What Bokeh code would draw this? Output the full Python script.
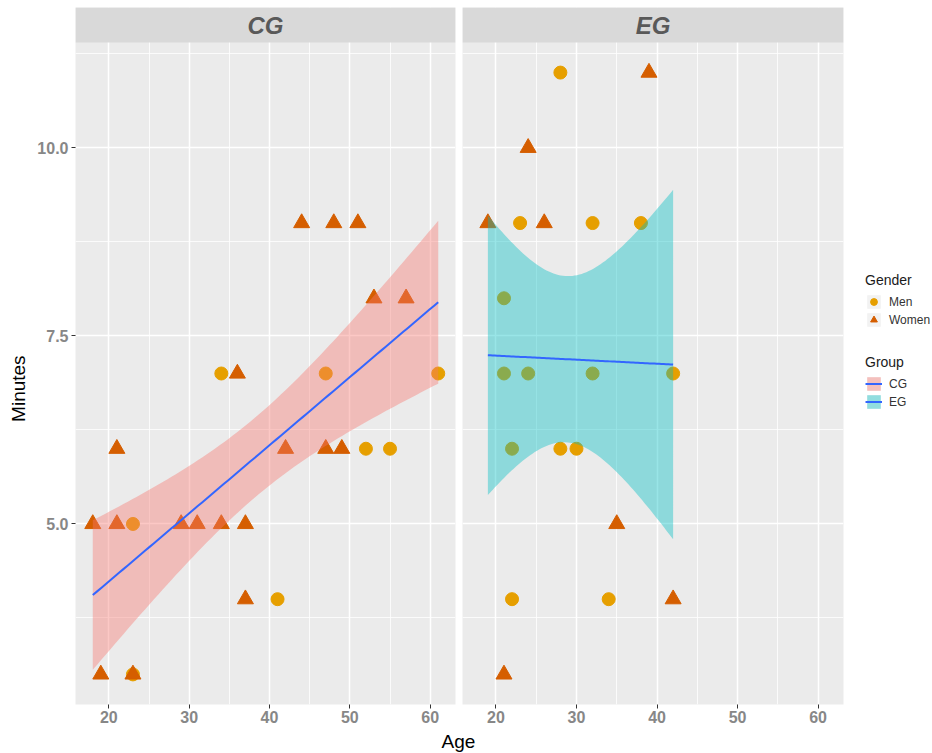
import numpy as np
from bokeh.plotting import figure
from bokeh.layouts import row, column
from bokeh.models import (Range1d, FixedTicker, BoxAnnotation, Label, Legend, LegendItem)
from bokeh.embed import file_html
from bokeh.resources import INLINE

# ---------------- data ----------------
cg_men_age = [34, 47, 61, 52, 55, 23, 41, 23]
cg_men_min = [7, 7, 7, 6, 6, 5, 4, 3]
cg_women_age = [44, 48, 51, 53, 57, 36, 21, 42, 47, 49, 18, 21, 29, 31, 34, 37, 37, 19, 23]
cg_women_min = [9, 9, 9, 8, 8, 7, 6, 6, 6, 6, 5, 5, 5, 5, 5, 5, 4, 3, 3]
eg_men_age = [28, 23, 32, 38, 21, 21, 24, 32, 42, 22, 28, 30, 22, 34]
eg_men_min = [11, 9, 9, 9, 8, 7, 7, 7, 7, 6, 6, 6, 4, 4]
eg_women_age = [39, 24, 19, 26, 35, 42, 21]
eg_women_min = [11, 10, 9, 9, 5, 4, 3]

groups = ["CG", "EG"]
genders = ["Men", "Women"]
x_ticks = [20, 30, 40, 50, 60]
x_minor = [25, 35, 45, 55]
y_ticks = [5.0, 7.5, 10.0]
y_minor = [3.75, 6.25, 8.75, 11.25]
t_975 = {"CG": 2.0595, "EG": 2.0930}   # Student t quantiles, df = n - 2

# ---------------- styles ----------------
MEN_COL = "#E69F00"
WOMEN_COL = "#D55E00"
FILL = {"CG": "#F8766D", "EG": "#00BFC4"}
LINE_COL = "#3366FF"
PANEL_BG = "#EBEBEB"
STRIP_BG = "#D9D9D9"
TICK_COL = "#878787"
FONT = "Liberation Sans"

ROW_H = 726
TOP = 7
BORDER_BOTTOM = 22
FRAME_H = ROW_H - BORDER_BOTTOM - TOP
STRIP_H = 35


def smooth(xs, ys, t):
    x = np.asarray(xs, float)
    y = np.asarray(ys, float)
    n = len(x)
    b, a = np.polyfit(x, y, 1)
    grid = np.linspace(x.min(), x.max(), 80)
    fit = a + b * grid
    resid = y - (a + b * x)
    s = np.sqrt((resid ** 2).sum() / (n - 2))
    se = s * np.sqrt(1.0 / n + (grid - x.mean()) ** 2 / ((x - x.mean()) ** 2).sum())
    return grid, fit, fit - t * se, fit + t * se


data = {
    "CG": (cg_men_age, cg_men_min, cg_women_age, cg_women_min),
    "EG": (eg_men_age, eg_men_min, eg_women_age, eg_women_min),
}
fits = {g: smooth(d[0] + d[2], d[1] + d[3], t_975[g]) for g, d in data.items()}

all_x = cg_men_age + cg_women_age + eg_men_age + eg_women_age
all_y = cg_men_min + cg_women_min + eg_men_min + eg_women_min
ymin = min(min(all_y), min(min(f[2]) for f in fits.values()))
ymax = max(max(all_y), max(max(f[3]) for f in fits.values()))
xr = max(all_x) - min(all_x)
x0, x1 = min(all_x) - 0.05 * xr, max(all_x) + 0.05 * xr
yr = ymax - ymin
y0, y1 = ymin - 0.05 * yr, ymax + 0.05 * yr
panel_px = FRAME_H - STRIP_H
y_top = y1 + STRIP_H * (y1 - y0) / panel_px


def make_panel(g, width, bl, br, show_y):
    ma, mm, wa, wm = data[g]
    p = figure(width=width, height=ROW_H, x_range=Range1d(x0, x1), y_range=Range1d(y0, y_top),
               output_backend="svg", toolbar_location=None,
               min_border_left=bl, min_border_right=br, min_border_top=TOP,
               min_border_bottom=BORDER_BOTTOM)
    p.background_fill_color = PANEL_BG
    p.border_fill_color = "white"
    p.outline_line_color = None

    xt = FixedTicker(ticks=x_ticks, minor_ticks=x_minor)
    yt = FixedTicker(ticks=y_ticks, minor_ticks=y_minor)
    p.xaxis.ticker = xt
    p.yaxis.ticker = yt
    p.xgrid.ticker = xt
    p.ygrid.ticker = yt
    for gr in (p.xgrid, p.ygrid):
        gr.grid_line_color = "white"
        gr.grid_line_width = 1.5
        gr.minor_grid_line_color = "white"
        gr.minor_grid_line_width = 0.8

    for ax in (p.xaxis, p.yaxis):
        ax.axis_line_color = None
        ax.major_tick_line_color = "#333333"
        ax.major_tick_out = 4
        ax.major_tick_in = 0
        ax.minor_tick_line_color = None
        ax.major_label_text_font = FONT
        ax.major_label_text_font_style = "bold"
        ax.major_label_text_font_size = "16px"
        ax.major_label_text_color = TICK_COL
        ax.major_label_standoff = 2
    p.yaxis.major_label_standoff = 3
    p.yaxis.major_label_overrides = {v: f"{v:.1f}" for v in y_ticks}
    if not show_y:
        p.yaxis.visible = False

    p.scatter(ma, mm, marker="circle", size=13, color=MEN_COL)
    p.scatter(wa, wm, marker="triangle", size=16, color=WOMEN_COL)

    grid, fit, lo, hi = fits[g]
    p.varea(x=grid, y1=lo, y2=hi, fill_color=FILL[g], fill_alpha=0.4)
    p.line(grid, fit, line_color=LINE_COL, line_width=2)

    p.add_layout(BoxAnnotation(bottom=y1, fill_color=STRIP_BG, fill_alpha=1.0, line_color=None))
    p.add_layout(Label(x=(x0 + x1) / 2, y=(y1 + y_top) / 2, text=g, text_align="center",
                       text_baseline="middle", text_font=FONT, text_font_style="bold italic",
                       text_font_size="24px", text_color="#595959"))
    return p


cg = make_panel("CG", 424, 39, 3, True)
eg = make_panel("EG", 390, 4, 5, False)

# ---------------- y axis title ----------------
YLAB_W = 34
ylab = figure(width=YLAB_W, height=ROW_H, x_range=Range1d(0, YLAB_W), y_range=Range1d(0, ROW_H),
              output_backend="svg", toolbar_location=None, min_border=0)
ylab.axis.visible = False
ylab.grid.visible = False
ylab.outline_line_color = None
ylab.add_layout(Label(x=18, y=ROW_H - 397, text="Minutes", angle=np.pi / 2, text_align="center",
                      text_baseline="middle", text_font=FONT, text_font_size="19px",
                      text_color="black"))

# ---------------- legends ----------------
leg = figure(width=82, height=ROW_H, x_range=Range1d(0, 1), y_range=Range1d(0, 1),
             output_backend="svg", toolbar_location=None, min_border=0)
leg.axis.visible = False
leg.grid.visible = False
leg.outline_line_color = None

# invisible proxies (outside the legend figure's range) that only feed the legend keys
px, py = [-5], [-5]
key_bg = leg.rect(x=px, y=py, width=1, height=1, fill_color="#F2F2F2", line_color=None)
men_r = leg.scatter(x=px, y=py, marker="circle", color=MEN_COL)
wom_r = leg.scatter(x=px, y=py, marker="triangle", color=WOMEN_COL)
grp_items = []
for g in groups:
    fr = leg.varea(x=[-6, -5], y1=[-6, -6], y2=[-5, -5], fill_color=FILL[g], fill_alpha=0.4)
    lr = leg.line(x=[-6, -5], y=[-5, -5], line_color=LINE_COL, line_width=2)
    grp_items.append(LegendItem(label=g, renderers=[key_bg, fr, lr]))


def style_legend(lg):
    lg.border_line_color = None
    lg.background_fill_alpha = 0
    lg.padding = 0
    lg.margin = 0
    lg.spacing = 1
    lg.glyph_width = 17
    lg.glyph_height = 17
    lg.label_height = 17
    lg.label_standoff = 7
    lg.title_standoff = 5
    lg.label_text_font = FONT
    lg.label_text_font_size = "12px"
    lg.label_text_color = "#333333"
    lg.title_text_font = FONT
    lg.title_text_font_size = "14px"
    lg.title_text_font_style = "normal"
    lg.title_text_color = "#1A1A1A"


lg1 = Legend(items=[LegendItem(label=genders[0], renderers=[key_bg, men_r]),
                    LegendItem(label=genders[1], renderers=[key_bg, wom_r])],
             title="Gender", location=(17, ROW_H - 350))
lg2 = Legend(items=grp_items, title="Group", location=(17, ROW_H - 432))
style_legend(lg1)
style_legend(lg2)
leg.add_layout(lg1)
leg.add_layout(lg2)

# ---------------- x axis title ----------------
TOTAL_W = YLAB_W + 424 + 390 + 82
XLAB_H = 27
xlab = figure(width=TOTAL_W, height=XLAB_H, x_range=Range1d(0, TOTAL_W), y_range=Range1d(0, XLAB_H),
              output_backend="svg", toolbar_location=None, min_border=0)
xlab.axis.visible = False
xlab.grid.visible = False
xlab.outline_line_color = None
xlab.add_layout(Label(x=458, y=XLAB_H - 15, text="Age", text_align="center", text_baseline="middle",
                      text_font=FONT, text_font_size="19px", text_color="black"))

layout = column(row(ylab, cg, eg, leg), xlab)
open("out.html", "w").write(file_html(layout, INLINE))
